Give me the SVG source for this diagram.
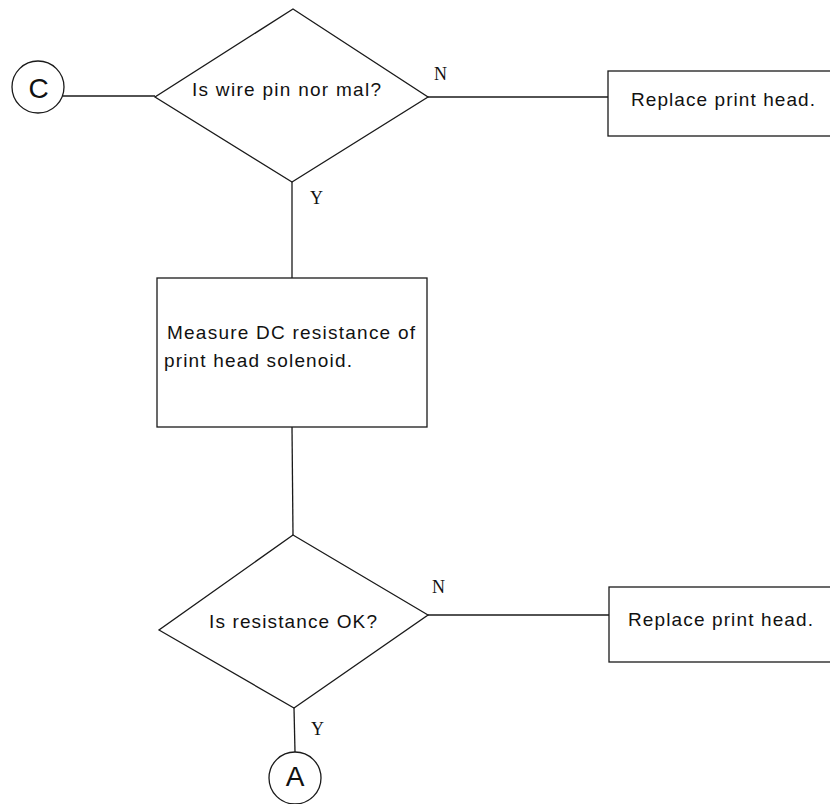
<svg xmlns="http://www.w3.org/2000/svg" width="830" height="804" viewBox="0 0 830 804">
  <style>
    .shape { fill: #ffffff; stroke: #1a1a1a; stroke-width: 1.3; }
    .conn { fill: none; stroke: #1a1a1a; stroke-width: 1.3; }
    .txt { font-family: "Liberation Sans", Arial, sans-serif; font-size: 19px; fill: #111111; }
    .lbl { font-family: "Liberation Serif", "Times New Roman", serif; font-size: 18px; fill: #111111; }
    .conn-letter { font-family: "Liberation Sans", Arial, sans-serif; font-size: 28px; fill: #111111; text-anchor: middle; }
  </style>
  <rect width="830" height="804" fill="#ffffff"/>

  <!-- connectors -->
  <g id="connectors">
    <line class="conn" x1="63" y1="96" x2="155" y2="96"/>
    <line class="conn" x1="428" y1="97" x2="608" y2="97"/>
    <line class="conn" x1="292" y1="182" x2="292" y2="278"/>
    <line class="conn" x1="292" y1="427" x2="293" y2="535"/>
    <line class="conn" x1="428" y1="615" x2="609" y2="615"/>
    <line class="conn" x1="294" y1="708" x2="295" y2="752"/>
    <text class="lbl" x="434" y="80">N</text>
    <text class="lbl" x="310" y="204">Y</text>
    <text class="lbl" x="432" y="593">N</text>
    <text class="lbl" x="311" y="735">Y</text>
  </g>

  <!-- off-page connector C -->
  <g id="connector-c">
    <circle class="shape" cx="38" cy="87" r="26"/>
    <text class="conn-letter" x="38.5" y="98">C</text>
  </g>

  <!-- decision: wire pin -->
  <g id="decision-wire-pin">
    <polygon class="shape" points="293,9 428,97 292,182 155,97"/>
    <text class="txt" x="192" y="96" textLength="189" lengthAdjust="spacing">Is wire pin nor mal?</text>
  </g>

  <!-- action: replace head (upper) -->
  <g id="replace-head-1">
    <rect class="shape" x="608" y="71" width="240" height="65"/>
    <text class="txt" x="631" y="106" textLength="184" lengthAdjust="spacing">Replace print head.</text>
  </g>

  <!-- action: measure solenoid resistance -->
  <g id="measure-resistance">
    <rect class="shape" x="157" y="278" width="270" height="149"/>
    <text class="txt" x="167" y="339" textLength="248" lengthAdjust="spacing">Measure DC resistance of</text>
    <text class="txt" x="164" y="367" textLength="188" lengthAdjust="spacing">print head solenoid.</text>
  </g>

  <!-- decision: resistance -->
  <g id="decision-resistance">
    <polygon class="shape" points="293,535 428,615 294,708 159,630"/>
    <text class="txt" x="209" y="628" textLength="168" lengthAdjust="spacing">Is resistance OK?</text>
  </g>

  <!-- action: replace head (lower) -->
  <g id="replace-head-2">
    <rect class="shape" x="609" y="587" width="240" height="75"/>
    <text class="txt" x="628" y="626" textLength="185" lengthAdjust="spacing">Replace print head.</text>
  </g>

  <!-- off-page connector A -->
  <g id="connector-a">
    <circle class="shape" cx="295" cy="778" r="26"/>
    <text class="conn-letter" x="295" y="786">A</text>
  </g>
</svg>
